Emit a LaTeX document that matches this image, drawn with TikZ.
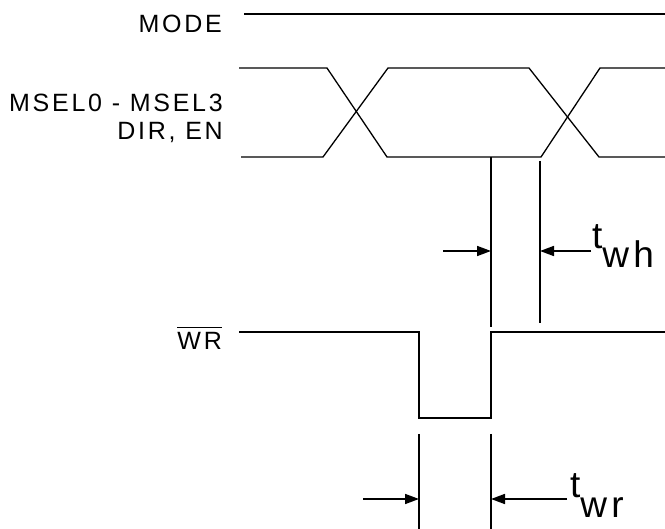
\documentclass[tikz,border=0pt]{standalone}
\usepackage{fontspec}
\setmainfont{Liberation Sans}[LetterSpace=11]
\usetikzlibrary{arrows.meta,positioning}
\tikzstyle{wave} = [line width=1.3pt, line join=miter]
\tikzstyle{markline} = [line width=1.3pt]
\tikzstyle{dimarrow} = [line width=1.7pt, -{Triangle[length=14pt,width=10pt]}]
\tikzstyle{siglabel} = [inner sep=0pt, align=right, font=\fontsize{25}{27.5}\selectfont]
\tikzstyle{timelabel} = [inner sep=0pt, anchor=base west, font=\fontsize{37}{37}\selectfont]
\newcommand{\barsig}[1]{\vbox{\hrule height 1.6pt \kern 4.5pt \hbox{#1}}}

\begin{document}
\begin{tikzpicture}[x=1pt, y=-1pt]
\useasboundingbox (0,0) rectangle (665,529);

% Signal names
\node (mode) [siglabel, anchor=north east] at (222,14.5) {MODE};
\node (msel) [siglabel, anchor=north east] at (223,94) {MSEL0 - MSEL3\\DIR, EN};
\node (wr) [siglabel, anchor=base east] at (222,350) {\barsig{WR}};

% MODE level
\coordinate (modeS) at (244,14);
\coordinate (modeE) at (665,14);
\draw[wave] (modeS) -- (modeE);

% MSEL bus, two crossings
\draw[wave] (239,68) -- (327,68) -- (387,157) -- (541,157) -- (600,68) -- (665,68);
\draw[wave] (241,157) -- (323,157) -- (388,68) -- (529,68) -- (599,157) -- (665,157);

% WR pulse
\draw[wave] (239,332) -- (419,332) -- (419,418) -- (491,418) -- (491,332) -- (665,332);

% Markers for t_wh
\coordinate (whA) at (491,157);
\coordinate (whB) at (540,161);
\draw[markline] (whA) -- (491,327);
\draw[markline] (whB) -- (540,323);
\draw[dimarrow] (443,251) -- (491,251);
\draw[dimarrow] (591,251) -- (540,251);
\node (twh) [timelabel] at (592,249) {t\raisebox{-19pt}{wh}};

% Markers for t_wr
\draw[markline] (419,434) -- (419,529);
\draw[markline] (491,434) -- (491,529);
\draw[dimarrow] (363,499) -- (419,499);
\draw[dimarrow] (567,499) -- (491,499);
\node (twr) [timelabel] at (570,498) {t\raisebox{-20pt}{wr}};
\end{tikzpicture}
\end{document}
